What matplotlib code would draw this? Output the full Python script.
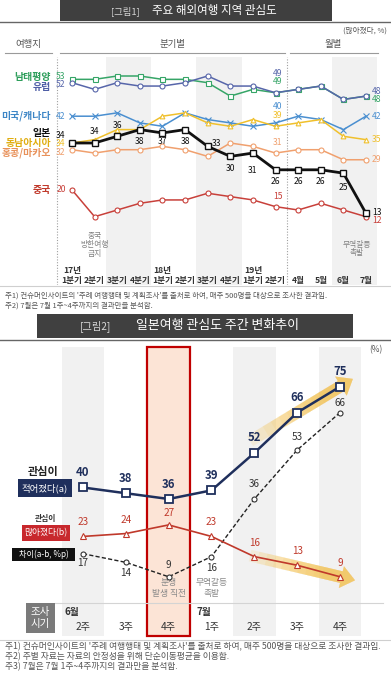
import numpy as np
import matplotlib.pyplot as plt
from matplotlib.patches import Rectangle, FancyArrowPatch
from matplotlib.transforms import blended_transform_factory

plt.rcParams['font.family'] = ['Noto Sans CJK KR', 'DejaVu Sans']

# [그림1] 분기별 / 월별 관심도 (많아졌다, %)
periods = ['1분기', '2분기', '3분기', '4분기', '1분기', '2분기', '3분기', '4분기',
           '1분기', '2분기', '4월', '5월', '6월', '7월']
years = ['17년', '18년', '19년']
south_pacific = [53, 53, 54, 54, 53, 53, 52, 48, 50, 49, 50, 51, 47, 48]
europe = [52, 50, 52, 51, 51, 52, 54, 51, 51, 49, 50, 51, 47, 48]
usa_canada = [42, 42, 43, 40, 39, 43, 41, 40, 39, 40, 42, 41, 38, 42]
japan = [34, 34, 36, 38, 37, 38, 33, 30, 31, 26, 26, 26, 25, 13]
se_asia = [34, 35, 38, 38, 42, 43, 40, 39, 41, 39, 40, 41, 36, 35]
hk_macau = [32, 31, 32, 32, 33, 32, 30, 34, 33, 31, 32, 32, 29, 29]
china = [20, 12, 14, 16, 17, 17, 19, 18, 17, 15, 14, 16, 14, 12]

# [그림2] 일본여행 관심도 주간 변화 (%)
weeks = ['2주', '3주', '4주', '1주', '2주', '3주', '4주']
less = [40, 38, 36, 39, 52, 66, 75]
more = [23, 24, 27, 23, 16, 13, 9]
gap = [17, 14, 9, 16, 36, 53, 66]

W, H = 391, 680
fig = plt.figure(figsize=(W / 100, H / 100), dpi=100)
bg = fig.add_axes([0, 0, 1, 1])
bg.set_xlim(0, W)
bg.set_ylim(H, 0)
bg.axis('off')


def px_axes(top, bottom):
    ax = fig.add_axes([0, 1 - bottom / H, 1, (bottom - top) / H])
    ax.axis('off')
    return ax


def box(ax, x0, y0, x1, y1, **kw):
    ax.add_patch(Rectangle((x0, y0), x1 - x0, y1 - y0, **kw))


grey_txt = '#555555'

# ---------------- 그림1 ----------------
box(bg, 60, 0, 332, 21, color='#3f3f3f', lw=0)
bg.text(125, 11, '[그림1]', color='#d8d8d8', fontsize=6.8, ha='center', va='center')
bg.text(214, 10.5, '주요 해외여행 지역 관심도', color='white', fontsize=8.3, ha='center', va='center')
bg.plot([0, W], [22, 22], color='#666666', lw=1)
bg.text(387, 31, '(많아졌다, %)', color=grey_txt, fontsize=5.5, ha='right', va='center')
bg.text(28, 45, '여행지', color=grey_txt, fontsize=6.8, ha='center', va='center')
bg.text(172, 45, '분기별', color=grey_txt, fontsize=6.8, ha='center', va='center')
bg.text(333, 45, '월별', color=grey_txt, fontsize=6.8, ha='center', va='center')
for a, b in [(5, 52), (60, 285), (290, 378)]:
    bg.plot([a, b], [53, 53], color='#9a9a9a', lw=0.8)

ax1 = px_axes(57, 285)
step1 = 22.615
ax1.set_xlim(-72 / step1, (W - 72) / step1)
ax1.set_ylim(34 - (285 - 143) / 3.35, 34 + (143 - 57) / 3.35)
tr1 = blended_transform_factory(ax1.transData, bg.transData)
x1 = np.arange(len(periods))

for s in (1.5, 5.5, 11.5):
    ax1.axvspan(s, s + 2, color='#f1f1f1', lw=0, zorder=0)
for xv in (-0.66, 9.5):
    ax1.axvline(xv, color='#a0a0a0', ls=(0, (1, 1.5)), lw=0.8, zorder=1)

series = [
    ('남태평양', south_pacific, '#36a567', 's', 3.6),
    ('유럽', europe, '#5766aa', 'o', 3.6),
    ('미국/캐나다', usa_canada, '#4a8fd0', 'x', 4),
    ('동남아시아', se_asia, '#f0c02c', '^', 3.4),
    ('홍콩/마카오', hk_macau, '#f0a06e', 'o', 3.6),
    ('중국', china, '#c8403a', 'o', 3.6),
]
for name, vals, col, mk, ms in series:
    ax1.plot(x1, vals, color=col, lw=1.1, marker=mk, ms=ms, mfc='white',
             mec=col, mew=0.8, zorder=3)
ax1.plot(x1, japan, color='#111111', lw=2, marker='s', ms=4.8, mfc='white',
         mec='#111111', mew=1, zorder=5)

# left category labels
cat_lbl = [('남태평양', 77, '#2e9e5b'), ('유럽', 87, '#4f5ea6'), ('미국/캐나다', 116, '#3d86c6'),
           ('일본', 133, '#111111'), ('동남아시아', 143, '#e0ad10'),
           ('홍콩/마카오', 153, '#e8915a'), ('중국', 190, '#c0392b')]
for t, y, c in cat_lbl:
    bg.text(51, y, t, color=c, fontsize=7.1, fontweight='bold', ha='right', va='center')


def lab(ax, x, y, s, dx, dy, **kw):
    ax.annotate(s, (x, y), xytext=(dx, dy), textcoords='offset pixels',
                ha='center', va='center', **kw)


fs = 6.2
# start values
for (name, vals, col, mk, ms), dy in zip(series, [3, -2, 0, 0, -3, 0]):
    lab(ax1, 0, vals[0], str(vals[0]), -11, dy, color=col, fontsize=fs)
lab(ax1, 0, japan[0], str(japan[0]), -11, 8, color='#111111', fontsize=fs)
# 19년 2분기 values
i9 = 9
for (name, vals, col, mk, ms), dy in zip(series, [11, 19, 16, 11, 11, 10]):
    lab(ax1, i9, vals[i9], str(vals[i9]), 2, dy, color=col, fontsize=fs)
# end values
ie = len(periods) - 1
for (name, vals, col, mk, ms), dy in zip(series, [-3, 5, 0, 0, 0, -4]):
    ax1.annotate(str(vals[ie]), (ie, vals[ie]), xytext=(6, dy), textcoords='offset pixels',
                 ha='left', va='center', color=col, fontsize=fs)
ax1.annotate(str(japan[ie]), (ie, japan[ie]), xytext=(6, 1), textcoords='offset pixels',
             ha='left', va='center', color='#111111', fontsize=fs)
# 일본 values
jp_off = [None, (0, 12), (0, 11), (0, -12), (0, -9), (0, -12), (9, 3), (0, -12),
          (0, -17), (0, -12), (0, -12), (0, -12), (0, -14), None]
for i, off in enumerate(jp_off):
    if off:
        lab(ax1, i, japan[i], str(japan[i]), off[0], off[1], color='#111111', fontsize=fs)

ax1.text(1, 245, '중국\n방한여행\n금지', transform=tr1, ha='center', va='center',
         fontsize=5.6, color='#808080', linespacing=1.15)
ax1.text(12.6, 249, '무역갈등\n촉발', transform=tr1, ha='center', va='center',
         fontsize=5.6, color='#808080', linespacing=1.15)
for i, p in enumerate(periods):
    ax1.text(i, 280, p, transform=tr1, ha='center', va='center', fontsize=6.2,
             fontweight='bold', color='#333333')
for i, y in zip((-0.4, 3.6, 7.6), years):
    ax1.text(i, 270, y, transform=tr1, ha='left', va='center', fontsize=6.2,
             fontweight='bold', color='#333333')

bg.plot([0, W], [286, 286], color='#cfcfcf', lw=0.8)
bg.text(5, 296, "주1) 컨슈머인사이트의 '주례 여행행태 및 계획조사'를 출처로 하여, 매주 500명을 대상으로 조사한 결과임.",
        fontsize=5.4, color=grey_txt, va='center')
bg.text(5, 306, '주2) 7월은 7월 1주~4주까지의 결과만을 분석함.', fontsize=5.4, color=grey_txt, va='center')

# ---------------- 그림2 ----------------
box(bg, 37, 314, 353, 338, color='#404040', lw=0)
bg.text(96, 326.5, '[그림2]', color='#d8d8d8', fontsize=7.3, ha='center', va='center')
bg.text(218, 326, '일본여행 관심도 주간 변화추이', color='white', fontsize=9.3, ha='center', va='center')
bg.plot([0, W], [339.5, 339.5], color='#666666', lw=1)
bg.text(376, 350, '(%)', color=grey_txt, fontsize=6, ha='center', va='center')

ax2 = px_axes(340, 640)
step2 = 42.83
ax2.set_xlim(-83 / step2, (W - 83) / step2)
ax2.set_ylim(36 - (640 - 499) / 2.88, 36 + (499 - 340) / 2.88)
tr2 = blended_transform_factory(ax2.transData, bg.transData)
x2 = np.arange(len(weeks))

ylo, yhi = (640 - 636) / 300, (640 - 347) / 300
for j in (0, 4, 6):
    ax2.axvspan(j - 0.5, j + 0.5, ymin=ylo, ymax=yhi, color='#f1f1f1', lw=0, zorder=0)
ax2.axvspan(1.5, 2.5, ymin=ylo, ymax=yhi, facecolor='#fce4d6', edgecolor='#c00000',
            lw=1.6, zorder=0.5)
ax2.axhline(0, xmin=(55 / W), xmax=(383 / W), color='#d4d4d4', lw=0.8, zorder=1)


def glow_arrow(ax, tail, tip, n=10):
    tail = np.asarray(tail, float)
    tip = np.asarray(tip, float)
    for k in range(n):
        start = tail + (tip - tail) * k / (n + 3)
        ax.add_patch(FancyArrowPatch(start, tip,
                                     arrowstyle='simple,head_width=16,head_length=10,tail_width=8.5',
                                     mutation_scale=1, color='#f4bf45', alpha=0.13, lw=0,
                                     shrinkA=0, shrinkB=0, zorder=2))


d_less = np.array([1, less[6] - less[5]])
glow_arrow(ax2, np.array([6, less[6]]) - 2.1 * d_less, np.array([6, less[6]]) + 0.3 * d_less)
d_more = np.array([1, (more[6] - more[4]) / 2])
glow_arrow(ax2, np.array([4, more[4]]) - 0.1 * d_more, np.array([6, more[6]]) + 0.35 * d_more)

navy = '#1f2f5c'
red = '#c0392b'
ax2.plot(x2, gap, color='#222222', lw=1, ls=(0, (3, 1.6)), marker='o', ms=3.6,
         mfc='white', mec='#333333', mew=0.8, zorder=4)
ax2.plot(x2, more, color=red, lw=1.2, marker='^', ms=4, mfc='white', mec=red, mew=0.8, zorder=4)
ax2.plot(x2, less, color=navy, lw=1.8, marker='s', ms=6, mfc='white', mec=navy, mew=1.3, zorder=5)

for j in x2:
    lab(ax2, j, less[j], str(less[j]), 0, 15, color=navy, fontsize=8.2, fontweight='bold')
    lab(ax2, j, more[j], str(more[j]), 0, 14 if j != 2 else 12, color=red, fontsize=7.2)
gap_off = [(0, -9), (0, -11), (0, 12), (0, -11), (0, 15), (0, 13), (0, 10)]
for j, off in zip(x2, gap_off):
    lab(ax2, j, gap[j], str(gap[j]), off[0], off[1], color='#333333', fontsize=7.2)

ax2.text(2, 588, '분쟁\n발생 직전', transform=tr2, ha='center', va='center',
         fontsize=6.3, color='#8a8a8a', linespacing=1.15)
ax2.text(3, 588, '무역갈등\n촉발', transform=tr2, ha='center', va='center',
         fontsize=6.3, color='#8a8a8a', linespacing=1.15)

# overlay for boxes drawn above the chart bands
fg = fig.add_axes([0, 0, 1, 1])
fg.set_xlim(0, W)
fg.set_ylim(H, 0)
fg.axis('off')

# left legend boxes
fg.text(43, 472, '관심이', fontsize=8, fontweight='bold', color='#222222', ha='center', va='center')
box(fg, 18, 479, 72, 497, color=navy, lw=0)
fg.text(45, 488, '적어졌다(a)', fontsize=6.8, color='white', ha='center', va='center')
fg.text(46, 518, '관심이', fontsize=5.6, fontweight='bold', color='#333333', ha='center', va='center')
box(fg, 22, 525, 70, 541, color='#c8282d', lw=0)
fg.text(46, 533, '많아졌다(b)', fontsize=6.3, color='white', ha='center', va='center')
box(fg, 12, 548, 75, 561, color='#111111', lw=0)
fg.text(43.5, 554.5, '차이(a-b, %p)', fontsize=5.9, color='white', ha='center', va='center')

# 조사 시기 table
box(fg, 26, 603, 55, 633, color='#7a7a7a', lw=0)
fg.text(40.5, 618, '조사\n시기', fontsize=7.5, color='white', ha='center', va='center',
        linespacing=1.35)
ax2.text(-0.44, 612, '6월', transform=tr2, ha='left', va='center', fontsize=7,
         fontweight='bold', color='#333333')
ax2.text(2.66, 612, '7월', transform=tr2, ha='left', va='center', fontsize=7,
         fontweight='bold', color='#333333')
for j, w in enumerate(weeks):
    ax2.text(j, 627, w, transform=tr2, ha='center', va='center', fontsize=7.3, color='#333333')

bg.plot([0, W], [640, 640], color='#cfcfcf', lw=0.8)
notes2 = ["주1) 컨슈머인사이트의 '주례 여행행태 및 계획조사'를 출처로 하여, 매주 500명을 대상으로 조사한 결과임.",
          '주2) 주별 자료는 자료의 안정성을 위해 단순이동평균을 이용함.',
          '주3) 7월은 7월 1주~4주까지의 결과만을 분석함.']
for k, t in enumerate(notes2):
    bg.text(5, 647 + 10 * k, t, fontsize=6.3, color=grey_txt, va='center')

fig.savefig('out.png', dpi=100)
